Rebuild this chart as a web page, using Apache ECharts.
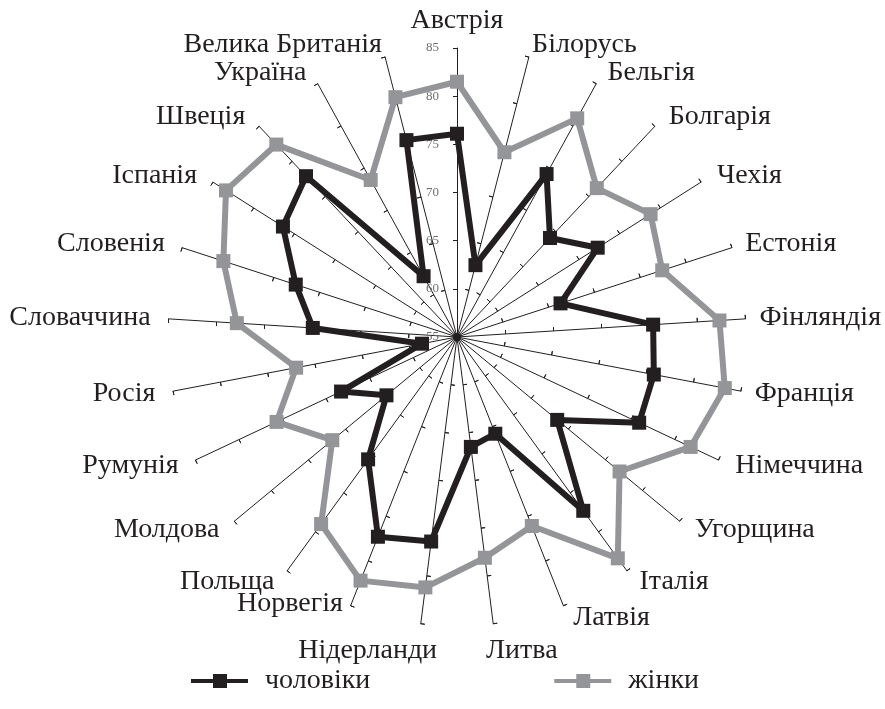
<!DOCTYPE html>
<html>
<head>
<meta charset="utf-8">
<script src="https://cdn.jsdelivr.net/npm/echarts@6/dist/echarts.min.js"></script>
<style>
  html, body { margin: 0; padding: 0; background: #fff; }
  #chart { width: 885px; height: 709px; }
</style>
</head>
<body>
<div id="chart"></div>
<script>
// країни за годинниковою стрілкою, починаючи згори
var countries = ['Австрія', 'Білорусь', 'Бельгія', 'Болгарія', 'Чехія', 'Естонія', 'Фінляндія',
  'Франція', 'Німеччина', 'Угорщина', 'Італія', 'Латвія', 'Литва', 'Нідерланди', 'Норвегія',
  'Польща', 'Молдова', 'Румунія', 'Росія', 'Словаччина', 'Словенія', 'Іспанія', 'Швеція',
  'Україна', 'Велика Британія'];
var men = [76.1, 62.7, 74.3, 69.1, 72.3, 66.3, 75.4, 75.8, 75.9, 68.5, 77.3, 65.8, 66.5,
  76.4, 77.3, 70.7, 64.5, 68.3, 58.7, 70.0, 72.6, 76.4, 77.9, 62.2, 76.1];
var women = [81.5, 74.8, 80.9, 76.2, 78.8, 77.4, 82.3, 83.3, 81.8, 76.9, 83.4, 76.1, 78.1,
  81.2, 82.2, 79.0, 71.8, 75.7, 72.0, 77.9, 80.5, 83.4, 82.4, 73.6, 80.7];
var seriesNames = ['чоловіки', 'жінки'];
var axisMin = 55, axisMax = 85;

var BLACK = '#231f20', GREY = '#939598';
var FONT = 'Liberation Serif';

// echarts кладе осі проти годинникової стрілки, тому розвертаємо порядок
var order = [0];
for (var k = countries.length - 1; k > 0; k--) order.push(k);

// підписи, які треба трохи посунути
var special = {
  'Велика Британія': { padding: 0 },
  'Білорусь': { padding: 0 },
  'Фінляндія': { padding: [0, 0, 0, 1] },
  'Франція': { padding: [0, 0, 0, 1] },
  'Естонія': { padding: [0, 0, 0, 1] },
  'Норвегія': { verticalAlign: 'bottom', padding: [0, 3, 0, 0] },
  'Нідерланди': { align: 'center', verticalAlign: 'top', padding: [0, 103, 0, 0] },
  'Литва': { align: 'center', verticalAlign: 'top', padding: [0, 0, 0, 54] }
};

var indicators = order.map(function (i) {
  var ind = { name: countries[i], min: axisMin, max: axisMax };
  if (i === 0) ind.axisLabel = { show: true };
  if (special[countries[i]]) ind.nameTextStyle = special[countries[i]];
  return ind;
});
var indicatorsPlain = order.map(function (i) {
  return { name: countries[i], min: axisMin, max: axisMax };
});

var legendIcon = 'path://M0,5L57,5L57,9L0,9Z M22,0L36,0L36,14L22,14Z';

var chart = echarts.init(document.getElementById('chart'));
chart.setOption({
  animation: false,
  radar: [{
    center: [457, 337],
    radius: 289,
    startAngle: 90,
    splitNumber: 6,
    shape: 'polygon',
    indicator: indicators,
    nameGap: 13,
    axisName: { color: BLACK, fontFamily: FONT, fontSize: 28, padding: [0, 5, 0, 5] },
    axisLine: { lineStyle: { color: BLACK, width: 1 } },
    axisTick: { show: true, length: 4, lineStyle: { color: BLACK, width: 1 } },
    axisLabel: { show: false, color: '#6d6e71', fontFamily: FONT, fontSize: 13, margin: 18 },
    splitLine: { show: false },
    splitArea: { show: false }
  }, {
    // друга копія осей лише для засічок з іншого боку
    center: [457, 337],
    radius: 289,
    startAngle: 90,
    splitNumber: 6,
    indicator: indicatorsPlain,
    axisName: { show: false },
    axisLine: { show: false },
    axisTick: { show: true, inside: true, length: 4, lineStyle: { color: BLACK, width: 1 } },
    axisLabel: { show: false },
    splitLine: { show: false },
    splitArea: { show: false }
  }],
  legend: {
    left: 186,
    top: 662,
    itemWidth: 57,
    itemHeight: 14,
    itemGap: 184,
    textStyle: { color: BLACK, fontFamily: FONT, fontSize: 28, padding: [0, 0, 0, 12] },
    data: [
      { name: seriesNames[0], icon: legendIcon },
      { name: seriesNames[1], icon: legendIcon }
    ]
  },
  series: [{
    type: 'radar',
    radarIndex: 0,
    z: 3,
    symbol: 'rect',
    symbolSize: 14,
    itemStyle: { color: BLACK },
    lineStyle: { color: BLACK, width: 6 },
    data: [{ name: seriesNames[0], value: order.map(function (i) { return men[i]; }) }]
  }, {
    type: 'radar',
    radarIndex: 0,
    z: 2,
    symbol: 'rect',
    symbolSize: 14,
    itemStyle: { color: GREY },
    lineStyle: { color: GREY, width: 6 },
    data: [{ name: seriesNames[1], value: order.map(function (i) { return women[i]; }) }]
  }]
});
</script>
</body>
</html>
